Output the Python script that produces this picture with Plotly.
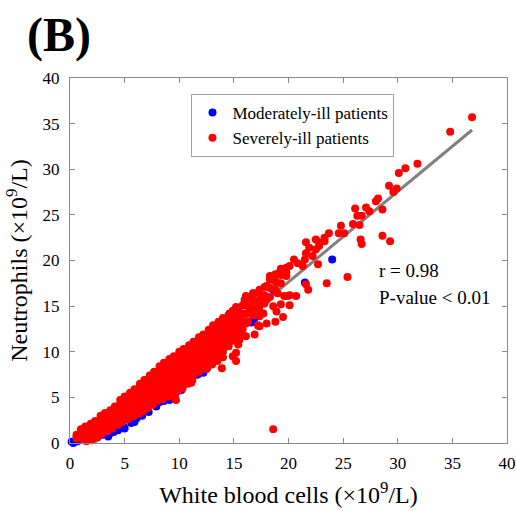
import plotly.graph_objects as go

# ---------------- data ----------------
x_ticks = [0, 5, 10, 15, 20, 25, 30, 35, 40]
y_ticks = [0, 5, 10, 15, 20, 25, 30, 35, 40]

# Moderately-ill patients: (white blood cells, neutrophils)
moderate_points = [
    (0.15, 0.15), (0.3, 0.0), (0.4, 0.1), (0.7, 0.2), (1.2, 0.5), (2.1, 1.2), (2.4, 1.2),
    (3.0, 0.9), (3.2, 1.0), (3.5, 0.7), (3.7, 1.1), (4.0, 1.2), (4.4, 1.4), (4.9, 1.8),
    (5.0, 1.6), (5.6, 2.2), (5.9, 2.3), (6.1, 2.7), (6.6, 3.0),
    (7.2, 3.4), (7.9, 4.0), (7.9, 4.4), (8.2, 4.5), (8.6, 4.6),
    (9.1, 4.7), (9.1, 4.9), (9.6, 5.1), (10.2, 5.8), (10.4, 6.4), (10.65, 6.9), (11.1, 7.0),
    (11.6, 7.5), (11.7, 7.5), (12.2, 7.9), (12.2, 7.7), (12.6, 8.3), (13.1, 8.9), (13.5, 9.2),
    (16.6, 13.2), (16.7, 13.3), (16.9, 13.7), (18.6, 16.8), (21.5, 17.6), (24.0, 20.1),
    (2.6, 1.7), (3.4, 2.2), (4.2, 2.6), (4.8, 3.0), (5.4, 3.3), (6.0, 3.8), (6.5, 4.2),
    (7.0, 4.6), (7.6, 5.0), (8.1, 5.5), (8.7, 6.0), (9.3, 6.4), (9.8, 6.9), (10.5, 7.5),
    (11.2, 8.1), (12.0, 8.8), (12.9, 9.7), (13.8, 10.5), (14.6, 11.4), (15.5, 12.3),
]

# Severely-ill patients: (white blood cells, neutrophils)
severe_points = [
    # sparse high values and outliers
    (36.8, 35.7), (34.8, 34.1), (31.8, 30.6), (30.7, 30.1), (30.1, 29.6), (29.2, 28.2),
    (29.9, 27.9), (29.6, 27.5), (28.2, 26.8), (28.0, 26.5), (27.1, 25.8), (27.4, 25.4),
    (28.6, 25.6), (26.1, 25.7), (26.3, 24.9), (26.7, 24.9), (25.9, 24.0), (26.5, 23.9),
    (24.8, 23.8), (24.6, 23.0), (25.1, 23.0), (28.6, 22.7), (29.3, 22.1), (26.6, 22.3),
    (26.7, 21.8), (23.7, 23.0), (23.3, 22.5), (22.8, 21.6), (22.5, 21.2), (21.9, 21.4),
    (21.6, 20.8), (22.2, 20.5), (21.5, 20.1), (20.85, 19.7), (21.3, 19.4), (22.7, 19.6),
    (25.4, 18.2), (23.5, 17.5), (21.8, 16.8), (21.6, 17.4), (20.7, 16.1), (20.1, 15.1),
    (19.6, 16.1), (19.3, 15.2), (19.5, 13.8), (18.9, 14.4), (17.35, 12.8), (16.9, 11.9),
    (16.1, 11.7), (15.4, 10.8), (15.2, 9.9), (14.5, 10.6), (13.9, 8.2), (18.6, 1.5),
    (15.5, 11.3), (15.7, 12.0), (18.0, 13.1), (17.35, 13.9), (19.9, 16.1), (18.8, 13.3),
    (17.2, 12.9), (14.9, 9.5), (15.2, 9.0), (22.8, 22.0), (23.3, 22.1), (22.5, 22.3),
    (21.6, 22.0), (20.5, 20.1), (20.1, 19.4), (19.8, 18.7), (19.2, 18.7), (18.3, 18.3),
    (18.9, 17.6), (18.0, 17.2), (17.35, 16.8), (16.75, 16.4), (16.1, 16.1), (15.98, 15.7),
    (15.2, 14.9), (14.6, 14.2), (14.0, 13.5), (18.0, 15.7), (18.6, 15.0), (17.35, 15.0),
    (17.7, 14.2), (16.4, 14.2), (16.1, 13.1), (15.5, 12.8), (14.9, 12.1), (14.3, 11.7),
    (16.1, 14.2), (17.35, 15.7), (19.0, 16.4), (20.1, 16.2), (9.6, 5.3), (9.7, 4.7),
    (11.1, 6.6), (1.5, 0.2), (2.0, 0.3), (2.5, 0.6), (0.6, 0.7), (1.37, 1.24),
    # ragged lower edge of the band
    (1.8, 0.5), (2.4, 0.8), (2.9, 1.0), (3.4, 1.3), (3.9, 1.6), (4.4, 2.0), (4.8, 2.3),
    (5.3, 2.6), (5.8, 2.9), (6.3, 3.2), (6.7, 3.5), (7.1, 3.8), (7.6, 4.2), (8.0, 4.6),
    (8.5, 4.8), (9.0, 5.1), (9.9, 5.7), (10.3, 6.0), (10.8, 6.5), (11.2, 6.9),
    (12.5, 8.1), (13.0, 8.6), (13.5, 9.0), (14.0, 9.4),
    # dense band
    (0.6, 0.5), (0.6, 0.9),
    (1.0, 0.5), (1.0, 1.1), (1.0, 1.5),
    (1.4, 0.7), (1.4, 1.3), (1.4, 1.8),
    (1.9, 1.0), (1.9, 1.6), (1.9, 2.1),
    (2.3, 1.2), (2.3, 1.8), (2.3, 2.4),
    (2.8, 1.4), (2.8, 2.0), (2.8, 2.6), (2.8, 3.0),
    (3.2, 1.6), (3.2, 2.2), (3.2, 2.8), (3.2, 3.3),
    (3.7, 1.9), (3.7, 2.5), (3.7, 3.1), (3.7, 3.6),
    (4.1, 2.2), (4.1, 2.8), (4.1, 3.4), (4.1, 4.0),
    (4.6, 2.5), (4.6, 3.1), (4.6, 3.7), (4.6, 4.3), (4.6, 4.7),
    (5.0, 2.8), (5.0, 3.4), (5.0, 4.0), (5.0, 4.6), (5.0, 5.1),
    (5.5, 3.0), (5.5, 3.6), (5.5, 4.2), (5.5, 4.8), (5.5, 5.5),
    (5.9, 3.4), (5.9, 4.0), (5.9, 4.6), (5.9, 5.2), (5.9, 5.9),
    (6.4, 3.7), (6.4, 4.3), (6.4, 4.9), (6.4, 5.5), (6.4, 6.1), (6.4, 6.5),
    (6.8, 4.1), (6.8, 4.7), (6.8, 5.3), (6.8, 5.9), (6.8, 6.5), (6.8, 6.9),
    (7.3, 4.4), (7.3, 5.0), (7.3, 5.6), (7.3, 6.2), (7.3, 6.8), (7.3, 7.4),
    (7.7, 4.7), (7.7, 5.3), (7.7, 5.9), (7.7, 6.5), (7.7, 7.1), (7.7, 7.8),
    (8.2, 5.0), (8.2, 5.6), (8.2, 6.2), (8.2, 6.8), (8.2, 7.4), (8.2, 8.0), (8.2, 8.4),
    (8.6, 5.3), (8.6, 5.9), (8.6, 6.5), (8.6, 7.1), (8.6, 7.7), (8.6, 8.3), (8.6, 8.8),
    (9.1, 5.6), (9.1, 6.2), (9.1, 6.8), (9.1, 7.4), (9.1, 8.0), (9.1, 8.6), (9.1, 9.2),
    (9.5, 5.9), (9.5, 6.5), (9.5, 7.1), (9.5, 7.7), (9.5, 8.3), (9.5, 8.9), (9.5, 9.5),
    (10.0, 6.3), (10.0, 6.9), (10.0, 7.5), (10.0, 8.1), (10.0, 8.7), (10.0, 9.3), (10.0, 10.0),
    (10.4, 6.7), (10.4, 7.3), (10.4, 7.9), (10.4, 8.5), (10.4, 9.1), (10.4, 9.7), (10.4, 10.3),
    (10.9, 7.0), (10.9, 7.6), (10.9, 8.2), (10.9, 8.8), (10.9, 9.4), (10.9, 10.0), (10.9, 10.7),
    (11.3, 7.4), (11.3, 8.0), (11.3, 8.6), (11.3, 9.2), (11.3, 9.8), (11.3, 10.4), (11.3, 11.1),
    (11.8, 7.8), (11.8, 8.4), (11.8, 9.0), (11.8, 9.6), (11.8, 10.2), (11.8, 10.8), (11.8, 11.6),
    (12.2, 8.2), (12.2, 8.8), (12.2, 9.4), (12.2, 10.0), (12.2, 10.6), (12.2, 11.2), (12.2, 11.9),
    (12.7, 8.7), (12.7, 9.3), (12.7, 9.9), (12.7, 10.5), (12.7, 11.1), (12.7, 11.7), (12.7, 12.4),
    (13.1, 9.3), (13.1, 9.9), (13.1, 10.5), (13.1, 11.1), (13.1, 11.7), (13.1, 12.3), (13.1, 12.9),
    (13.6, 9.6), (13.6, 10.2), (13.6, 10.8), (13.6, 11.4), (13.6, 12.0), (13.6, 12.6), (13.6, 13.3),
    (14.0, 10.0), (14.0, 10.6), (14.0, 11.2), (14.0, 11.8), (14.0, 12.4), (14.0, 13.0), (14.0, 13.7),
    (14.5, 10.6), (14.5, 11.3), (14.5, 12.0), (14.5, 12.6), (14.5, 13.2), (14.5, 14.0),
    (14.9, 11.2), (14.9, 11.8), (14.9, 12.5), (14.9, 13.2), (14.9, 13.8), (14.9, 14.5),
    (15.4, 11.8), (15.4, 12.6), (15.4, 13.3), (15.4, 14.0), (15.4, 14.8),
    (15.8, 12.5), (15.8, 13.4), (15.8, 14.2), (15.8, 15.1),
    (16.3, 13.3), (16.3, 14.2), (16.3, 15.0), (16.3, 15.8),
    (16.8, 14.0), (16.8, 14.8), (16.8, 15.6), (16.8, 16.4),
    (17.3, 14.6), (17.3, 15.5), (17.3, 16.4),
    (17.8, 15.3), (17.8, 16.2), (17.8, 17.1),
    (18.3, 16.0), (18.3, 17.0), (18.3, 17.9),
    (18.8, 16.8), (18.8, 17.7), (18.8, 18.5),
    (19.3, 17.5), (19.3, 18.4), (19.3, 19.1),
    (19.8, 18.3), (19.8, 19.2),
]

# regression line end points
fit_x = [2.3, 36.8]
fit_y = [0.1, 34.3]

stat_lines = ["r = 0.98", "P-value < 0.01"]

mod_x = [p[0] for p in moderate_points]
mod_y = [p[1] for p in moderate_points]
sev_x = [p[0] for p in severe_points]
sev_y = [p[1] for p in severe_points]

SERIF = "Liberation Serif, Times New Roman, serif"
GRAY = "#8a8a8a"

fig = go.Figure()
fig.add_trace(go.Scatter(x=fit_x, y=fit_y, mode="lines",
                         line=dict(color="#808080", width=3), showlegend=False,
                         hoverinfo="skip"))
fig.add_trace(go.Scatter(x=mod_x, y=mod_y, mode="markers", name="Moderately-ill patients",
                         marker=dict(color="#0000FF", size=8, line=dict(width=0)),
                         cliponaxis=False))
fig.add_trace(go.Scatter(x=sev_x, y=sev_y, mode="markers", name="Severely-ill patients",
                         marker=dict(color="#FF0000", size=8, line=dict(width=0)),
                         cliponaxis=False))

axis_common = dict(
    showgrid=False, zeroline=False, showline=True, linecolor=GRAY, linewidth=1.2,
    mirror="ticks", ticks="inside", ticklen=5, tickcolor=GRAY, tickwidth=1,
    tickfont=dict(family=SERIF, size=17, color="black"),
)

fig.update_layout(
    width=516, height=511,
    margin=dict(l=70, r=9, t=78, b=68, autoexpand=False),
    paper_bgcolor="white", plot_bgcolor="white",
    xaxis=dict(range=[0, 40], tickvals=x_ticks, ticklabelstandoff=4,
               title=dict(text="White blood cells (×10<sup>9</sup>/L)",
                          font=dict(family=SERIF, size=24, color="black"), standoff=14),
               **axis_common),
    yaxis=dict(range=[0, 40], tickvals=y_ticks, ticklabelstandoff=6,
               title=dict(text="Neutrophils (×10<sup>9</sup>/L)",
                          font=dict(family=SERIF, size=24, color="black"), standoff=8),
               **axis_common),
    legend=dict(x=0.278, y=0.956, xanchor="left", yanchor="top",
                bgcolor="white", bordercolor="#a0a0a0", borderwidth=1,
                font=dict(family=SERIF, size=17, color="black"),
                itemwidth=30, tracegroupgap=0),
    showlegend=True,
    annotations=[
        dict(text="<b>(B)</b>", xref="paper", yref="paper", x=-0.103, y=1.118,
             xanchor="left", yanchor="middle", showarrow=False,
             font=dict(family=SERIF, size=48, color="black")),
        dict(text=stat_lines[0], xref="x", yref="y", x=28.1, y=18.85,
             xanchor="left", yanchor="middle", showarrow=False,
             font=dict(family=SERIF, size=19, color="black")),
        dict(text=stat_lines[1], xref="x", yref="y", x=28.1, y=16.0,
             xanchor="left", yanchor="middle", showarrow=False,
             font=dict(family=SERIF, size=19, color="black")),
    ],
)

fig.write_html("out.html")
